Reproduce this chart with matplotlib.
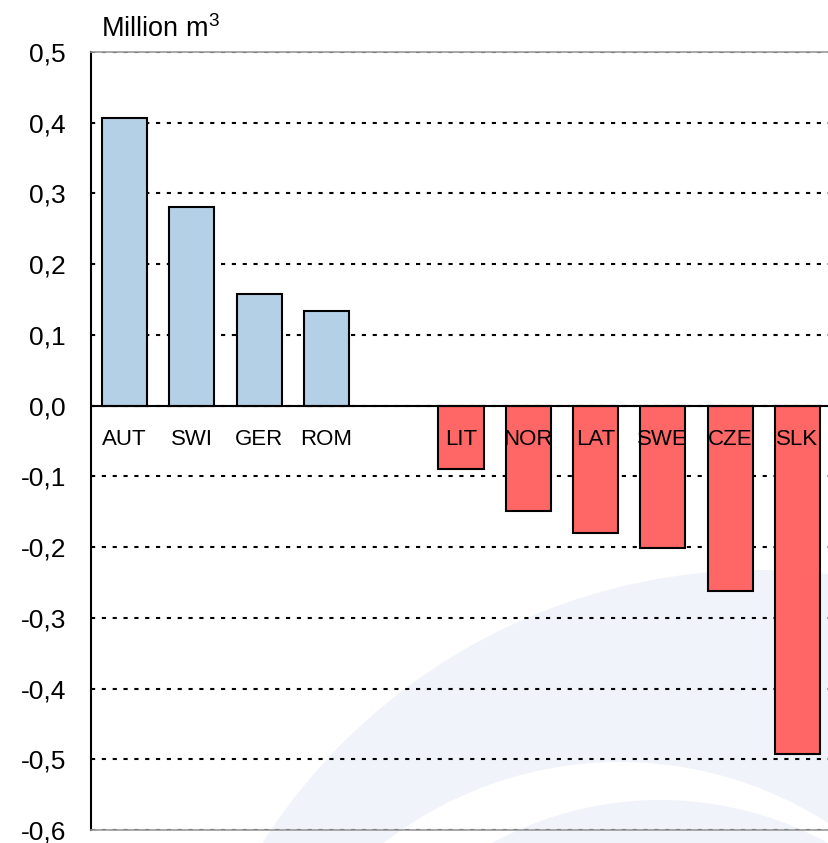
import matplotlib
matplotlib.use('Agg')
from matplotlib import pyplot as plt
from matplotlib.patches import Circle

plt.rcParams['font.family'] = ['Liberation Sans', 'DejaVu Sans']
plt.rcParams['mathtext.fontset'] = 'custom'
plt.rcParams['mathtext.rm'] = 'Liberation Sans'

# Change in volume per country (million m3); '' is an empty slot
countries = ['AUT', 'SWI', 'GER', 'ROM', '', 'LIT', 'NOR', 'LAT', 'SWE', 'CZE', 'SLK']
values = [0.407, 0.281, 0.158, 0.134, 0.0, -0.089, -0.149, -0.180, -0.201, -0.262, -0.492]
y_ticks = [0.5, 0.4, 0.3, 0.2, 0.1, 0.0, -0.1, -0.2, -0.3, -0.4, -0.5, -0.6]

W, H = 829, 843
fig = plt.figure(figsize=(W / 100, H / 100), dpi=100)

# Faint watermark arcs in the background (pixel coordinates)
bg = fig.add_axes([0, 0, 1, 1], zorder=-1)
bg.set_xlim(0, W)
bg.set_ylim(H, 0)
bg.axis('off')
wm = '#f0f3fa'
bg.add_patch(Circle((760, 1160), 590, color=wm, lw=0))
bg.add_patch(Circle((620, 1147), 385, color='white', lw=0))
bg.add_patch(Circle((660, 1150), 350, color=wm, lw=0))

ax = fig.add_axes([91 / W, (H - 830) / H, (W - 91) / W, (830 - 52) / H])
ax.set_facecolor('none')

colors = ['#b4d0e6' if v > 0 else '#ff6666' for v in values]
for i, v in enumerate(values):
    if countries[i] == '':
        continue
    ax.bar(i, v, width=0.67, color=colors[i], edgecolor='black', linewidth=1.5, zorder=3)
    ax.text(i, -0.048, countries[i], ha='center', va='center', fontsize=16, zorder=4)

ax.axhline(0, color='black', linewidth=1.5, zorder=3)

ax.set_xlim(-0.5, 10.47)
ax.set_ylim(-0.6, 0.5)
ax.set_xticks([])
ax.set_yticks(y_ticks)
ax.set_yticklabels([f'{t:.1f}'.replace('.', ',') for t in y_ticks])
ax.tick_params(axis='y', length=0, pad=18, labelsize=19)

ax.yaxis.grid(True, color='black', linestyle=(0, (2, 3.2)), linewidth=1.5)
ax.set_axisbelow(True)

ax.spines['left'].set_color('black')
ax.spines['left'].set_linewidth(1.5)
ax.spines['right'].set_visible(False)
for s in ['top', 'bottom']:
    ax.spines[s].set_color('#999999')
    ax.spines[s].set_linewidth(1.2)

fig.text(101 / W, 1 - 37 / H, 'Million m$^3$', fontsize=19.5, ha='left', va='baseline')

plt.savefig('out.png', dpi=100)
